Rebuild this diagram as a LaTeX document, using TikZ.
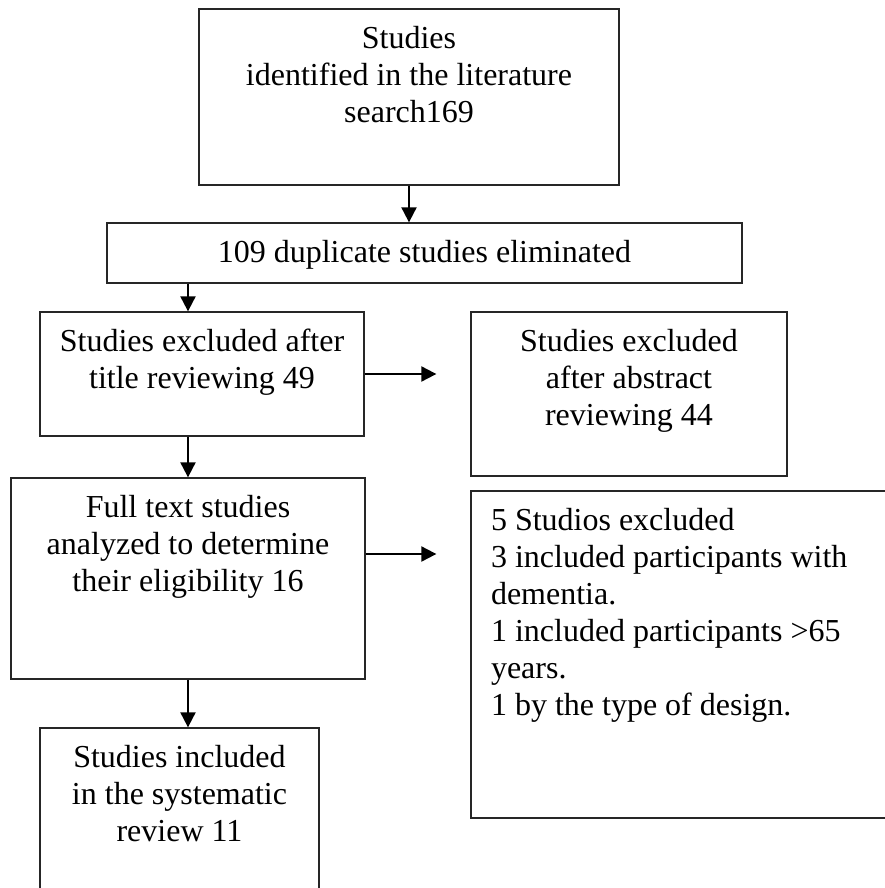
\documentclass[tikz,border=0pt]{standalone}
\usepackage{fontspec}
\setmainfont{Liberation Serif}
\usetikzlibrary{arrows.meta}

\tikzset{
  box/.style={draw=black!85, line width=1.3pt, rectangle, inner sep=0pt,
              font=\fontsize{32}{37}\selectfont},
  flow/.style={-{Triangle[length=15pt,width=15pt]}, line width=2pt},
}
% text set at the top of a box of given width and height
\newcommand{\boxtxt}[4][\centering]{%
  \parbox[c][#3][t]{#2}{\vspace*{13.5pt}#1\strut #4}}

\begin{document}
\begin{tikzpicture}[x=1pt,y=-1pt]
\path[use as bounding box, clip] (0,0) rectangle (885,888);
\node (lit) at (409,97) [box]
   {\boxtxt{420pt}{176pt}{Studies\\ identified in the literature\\ search169}};
\node (dup) at (424.5,253) [box]
   {\boxtxt{635pt}{60pt}{109 duplicate studies eliminated}};
\node (title) at (202,374) [box]
   {\boxtxt{324pt}{124pt}{Studies excluded after\\ title reviewing 49}};
\node (abstract) at (629,394) [box]
   {\boxtxt{316pt}{164pt}{Studies excluded\\ after abstract\\ reviewing 44}};
\node (full) at (188,578.5) [box]
   {\boxtxt{354pt}{201pt}{Full text studies\\ analyzed to determine\\ their eligibility 16}};
\node (excl) at (685.5,654.5) [box]
   {\boxtxt[\raggedright\leftskip=20pt]{429pt}{327pt}{5 Studios excluded\\
    3 included participants with\\ dementia.\\ 1 included participants >65\\
    years.\\ 1 by the type of design.}};
\node (incl) at (179.5,814) [box]
   {\boxtxt{279pt}{172pt}{Studies included\\ in the systematic\\ review 11}};
\coordinate (fa) at ([yshift=24.5pt]full.east);
\draw[flow] (lit.south) -- (lit.south |- dup.north);
\draw[flow] (dup.south -| full.north) -- (title.north -| full.north);
\draw[flow, shorten >=34pt] (title.east) -- (title.east -| abstract.west);
\draw[flow] (title.south -| full.north) -- (full.north);
\draw[flow, shorten >=34pt] (fa) -- (fa -| excl.west);
\draw[flow] (full.south) -- (full.south |- incl.north);
\end{tikzpicture}
\end{document}
